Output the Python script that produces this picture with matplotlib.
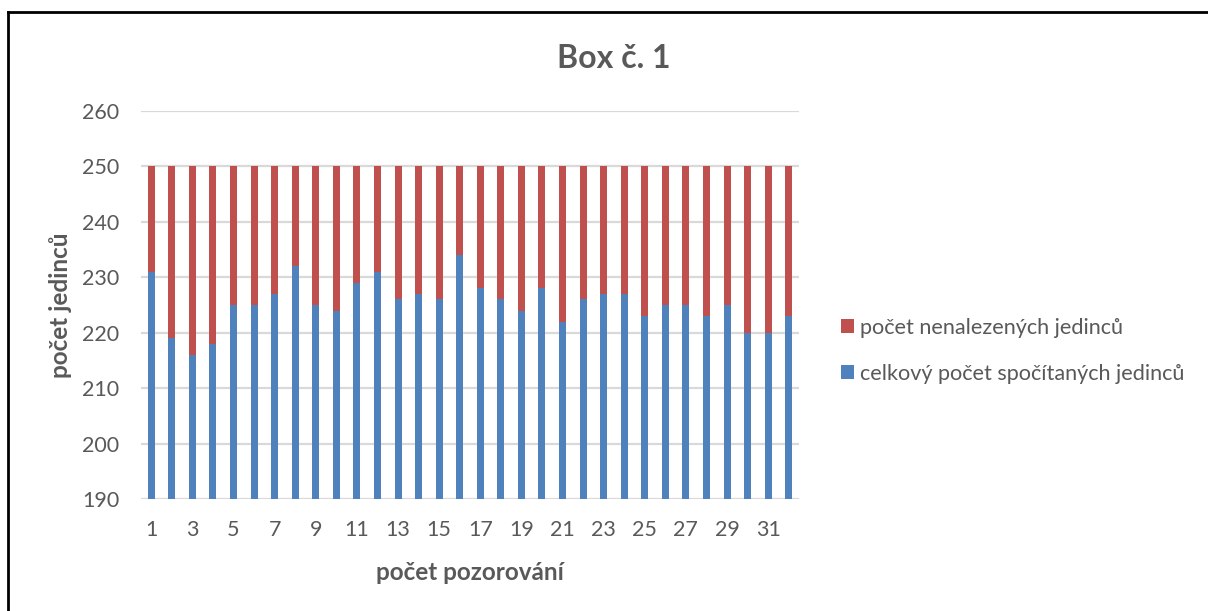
import matplotlib
matplotlib.use("Agg")
import matplotlib.pyplot as plt
from matplotlib.lines import Line2D
from matplotlib.patches import Patch

observations = list(range(1, 33))
counted = [231, 219, 216, 218, 225, 225, 227, 232, 225, 224, 229, 231, 226, 227, 226, 234,
           228, 226, 224, 228, 222, 226, 227, 227, 223, 225, 225, 223, 225, 220, 220, 223]
total = 250
missing = [total - c for c in counted]

title = "Box č. 1"
xlabel = "počet pozorování"
ylabel = "počet jedinců"
label_missing = "počet nenalezených jedinců"
label_counted = "celkový počet spočítaných jedinců"

blue = "#4F81BD"
red = "#C0504D"
text_col = "#595959"
grid_col = "#D9D9D9"

plt.rcParams['font.family'] = ['Lato', 'DejaVu Sans']

W, H = 1208, 611
fig = plt.figure(figsize=(W / 100, H / 100), dpi=100)
ax = fig.add_axes([141 / W, 1 - 499 / H, (799 - 141) / W, (499 - 111) / H])

base = 190
ax.bar(observations, [c - base for c in counted], bottom=base, width=0.34,
       color=blue, zorder=3)
ax.bar(observations, missing, bottom=counted, width=0.34, color=red, zorder=3)

ax.set_ylim(190, 260)
ax.set_xlim(0.5, 32.5)
ax.set_yticks(range(190, 261, 10))
ax.set_xticks(observations[::2])
ax.yaxis.grid(True, color=grid_col, linewidth=1.6, zorder=0)
ax.set_axisbelow(True)
for s in ax.spines.values():
    s.set_visible(False)
ax.tick_params(axis='both', length=0, labelsize=15.5, labelcolor=text_col)
ax.tick_params(axis='y', pad=15.5)
ax.tick_params(axis='x', pad=15)

ax.set_xlabel(xlabel, fontsize=17.5, fontweight='bold', color=text_col, labelpad=15)
ax.set_ylabel(ylabel, fontsize=17.5, fontweight='bold', color=text_col, labelpad=7)

fig.text(614 / W, 1 - 58 / H, title, fontsize=23, fontweight='bold', color=text_col,
         ha='center', va='center')

handles = [Patch(facecolor=red), Patch(facecolor=blue)]
fig.legend(handles, [label_missing, label_counted], loc='center left',
           bbox_to_anchor=(830 / W, 1 - 351 / H), frameon=False, fontsize=15.6,
           labelcolor=text_col, handlelength=0.6, handleheight=0.6,
           handletextpad=0.3, labelspacing=1.2, borderpad=0)

# frame around the chart
fig.add_artist(Line2D([8 / W, 8 / W], [0, 1 - 12 / H], color='black', lw=2, transform=fig.transFigure))
fig.add_artist(Line2D([8 / W, 1], [1 - 12 / H, 1 - 12 / H], color='black', lw=2, transform=fig.transFigure))

fig.savefig("out.png", dpi=100)
